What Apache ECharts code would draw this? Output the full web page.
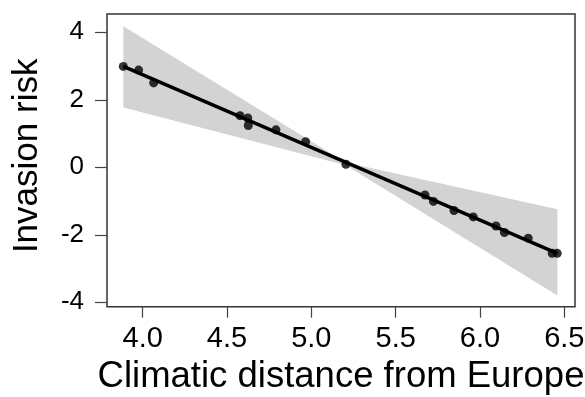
<!DOCTYPE html>
<html>
<head>
<meta charset="utf-8">
<script src="https://cdn.jsdelivr.net/npm/echarts@6/dist/echarts.min.js"></script>
<style>html,body{margin:0;padding:0;background:#fff}#c{width:585px;height:397px}</style>
</head>
<body>
<div id="c"></div>
<script>
// Observed points
const distance = [3.885, 3.976, 4.065, 4.577, 4.623, 4.626, 4.79, 4.966, 5.205, 5.674, 5.724, 5.846, 5.96, 6.095, 6.145, 6.286, 6.428, 6.458];
const risk     = [2.99, 2.88, 2.50, 1.53, 1.46, 1.24, 1.11, 0.76, 0.09, -0.82, -1.01, -1.28, -1.47, -1.74, -1.93, -2.10, -2.55, -2.55];
// Fitted line
const fitX = [3.885, 6.458];
const fitY = [2.99, -2.55];
// Confidence band
const bandX     = [3.885, 5.205, 6.459];
const bandLower = [1.77, 0.06, -3.80];
const bandUpper = [4.18, 0.14, -1.24];
// Axis ticks
const xTicks = [4.0, 4.5, 5.0, 5.5, 6.0, 6.5];
const yTicks = [-4, -2, 0, 2, 4];

const FONT = 'Liberation Sans';
const chart = echarts.init(document.getElementById('c'), null, {renderer: 'canvas'});
chart.setOption({
  animation: false,
  backgroundColor: '#fff',
  grid: {left: 107, top: 14, width: 468, height: 292.7, show: true, borderColor: '#333', borderWidth: 1.5,
         backgroundColor: 'transparent', containLabel: false, outerBoundsMode: 'none'},
  xAxis: {
    type: 'value', min: 3.7883, max: 6.5634,
    name: 'Climatic distance from Europe', nameLocation: 'middle', nameGap: 51,
    nameTextStyle: {fontFamily: FONT, fontSize: 36.5, color: '#000'},
    axisLine: {show: false, onZero: false},
    axisTick: {show: true, length: 11, lineStyle: {color: '#444', width: 1.2}, customValues: xTicks},
    axisLabel: {customValues: xTicks, formatter: v => v.toFixed(1), fontFamily: FONT, fontSize: 29, color: '#000', margin: 18},
    splitLine: {show: false}
  },
  yAxis: {
    type: 'value', min: -4.130, max: 4.542,
    name: 'Invasion risk', nameLocation: 'middle', nameGap: 62, nameRotate: 90,
    nameTextStyle: {fontFamily: FONT, fontSize: 35, color: '#000', padding: [0, 0, 0, 9]},
    axisLine: {show: false, onZero: false},
    axisTick: {show: true, length: 12, lineStyle: {color: '#444', width: 1.2}, customValues: yTicks},
    axisLabel: {customValues: yTicks, fontFamily: FONT, fontSize: 26, color: '#000', margin: 23},
    splitLine: {show: false}
  },
  series: [
    {type: 'custom', silent: true, z: 1,
     data: [0],
     renderItem: function (params, api) {
       const pts = [];
       for (let i = 0; i < bandX.length; i++) pts.push(api.coord([bandX[i], bandUpper[i]]));
       for (let i = bandX.length - 1; i >= 0; i--) pts.push(api.coord([bandX[i], bandLower[i]]));
       return {type: 'polygon', shape: {points: pts}, style: {fill: '#d3d3d3'}};
     }},
    {type: 'line', data: fitX.map((x, i) => [x, fitY[i]]), symbol: 'none',
     lineStyle: {color: '#000', width: 3.5}, z: 3},
    {type: 'scatter', data: distance.map((x, i) => [x, risk[i]]), symbol: 'circle', symbolSize: 9,
     itemStyle: {color: '#000'}, z: 4}
  ]
});
</script>
</body>
</html>
